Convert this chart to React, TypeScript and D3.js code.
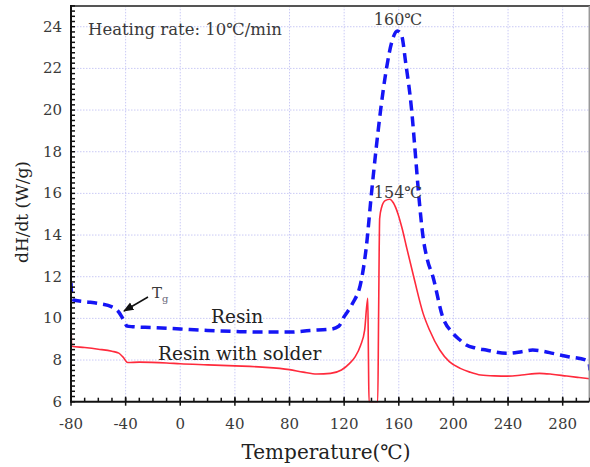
import * as d3 from 'd3';

// Resin (blue dashed)
const resinT = [-80, -79.2, -70, -60, -50, -46, -43, -41, -39, -35, -20, 0, 20, 40, 60, 80, 95, 110, 116, 120, 126, 132.6, 136, 140, 143.5, 146.7, 151, 155, 159, 162, 165, 169.4, 172, 174.5, 178, 181, 185, 192, 199.7, 205, 209.5, 216, 224, 238.7, 250, 258, 266, 272.8, 285, 297, 299.3, 300];
const resinH = [11.7, 10.9, 10.8, 10.72, 10.55, 10.38, 10.1, 9.85, 9.63, 9.6, 9.56, 9.49, 9.42, 9.37, 9.34, 9.34, 9.42, 9.48, 9.62, 10.08, 10.7, 11.84, 13.3, 16.0, 18.2, 20.0, 22.0, 23.3, 23.8, 23.6, 22.3, 20.0, 18.0, 16.0, 13.8, 12.8, 12.0, 10.1, 9.28, 8.95, 8.72, 8.58, 8.48, 8.32, 8.4, 8.48, 8.42, 8.32, 8.15, 8.0, 7.85, 7.5];

// Resin with solder (red solid)
const solderT = [-80, -79.5, -70, -60, -50, -45, -42, -38.5, -30, -10, 0, 20, 40, 60, 80, 90, 100, 110, 118, 124, 128, 132, 135, 137.3, 137.8, 138.2, 144.6, 145.2, 146, 147.5, 150, 153.4, 156, 159.3, 162.5, 165.6, 171.5, 177.8, 182.5, 190, 197, 205, 212, 220, 230, 240, 250, 263, 272, 283, 292, 300];
const solderH = [10.0, 8.66, 8.6, 8.52, 8.42, 8.33, 8.15, 7.88, 7.9, 7.86, 7.82, 7.77, 7.72, 7.66, 7.54, 7.42, 7.33, 7.36, 7.52, 7.84, 8.15, 8.7, 9.44, 10.96, 8.0, 6.0, 6.0, 10.0, 14.8, 15.35, 15.65, 15.72, 15.55, 15.04, 14.3, 13.44, 11.84, 10.24, 9.44, 8.48, 7.92, 7.6, 7.42, 7.28, 7.24, 7.23, 7.28, 7.36, 7.32, 7.23, 7.16, 7.1];

const xTicks = [-80, -40, 0, 40, 80, 120, 160, 200, 240, 280];
const yTicks = [6, 8, 10, 12, 14, 16, 18, 20, 22, 24];

const FONT = '"DejaVu Serif", serif';
const TXT = '#3a3a3a';

export default function App() {
  const x = d3.scaleLinear().domain([-80, 300]).range([71, 590]);
  const y = d3.scaleLinear().domain([6, 25]).range([401.7, 5.9]);

  const resin = resinT.map((t, i) => [t, resinH[i]] as [number, number]);
  const solder = solderT.map((t, i) => [t, solderH[i]] as [number, number]);

  const line = d3.line<[number, number]>()
    .x(d => x(d[0]))
    .y(d => y(d[1]))
    .curve(d3.curveMonotoneX);

  const minorX = d3.range(-80, 301, 10);
  const minorY = d3.range(6, 25.01, 0.25);

  const x0 = x(-80);
  const yb = y(6);
  const yt = y(25);
  const xr = 589.3;

  return (
    <svg width={590} height={467} style={{ position: 'absolute', left: 0, top: 0, background: '#fff' }}>
      <defs>
        <clipPath id="plot">
          <rect x={x0} y={yt} width={xr - x0} height={yb - yt + 1} />
        </clipPath>
        <marker id="arr" viewBox="0 0 10 10" refX="9" refY="5" markerWidth="7" markerHeight="7" orient="auto">
          <path d="M0,1 L10,5 L0,9 z" fill="#111" />
        </marker>
      </defs>

      {/* grid */}
      {xTicks.slice(1).map(t => (
        <line key={'gx' + t} x1={x(t)} x2={x(t)} y1={yt} y2={yb} stroke="#cacaf5" strokeWidth={1} strokeDasharray="1.5,1.5" />
      ))}
      {yTicks.slice(1).map(t => (
        <line key={'gy' + t} x1={x0} x2={xr} y1={y(t)} y2={y(t)} stroke="#cacaf5" strokeWidth={1} strokeDasharray="1.5,1.5" />
      ))}

      {/* curves */}
      <g clipPath="url(#plot)">
        <path d={line(solder) ?? ''} fill="none" stroke="#ff2a3c" strokeWidth={1.6} />
        <path d={line(resin) ?? ''} fill="none" stroke="#1515f5" strokeWidth={3.5} strokeDasharray="10,6" />
      </g>

      {/* frame */}
      <line x1={x0} x2={xr + 1} y1={yt} y2={yt} stroke="#555" strokeWidth={2} />
      <line x1={xr} x2={xr} y1={yt} y2={yb} stroke="#999" strokeWidth={1.5} />
      <line x1={x0} x2={x0} y1={yt - 1} y2={yb + 1} stroke="#111" strokeWidth={2} />
      <line x1={x0} x2={xr} y1={yb} y2={yb} stroke="#111" strokeWidth={2} />

      {/* ticks */}
      {minorY.map(t => (
        <line key={'ty' + t} x1={x0} x2={x0 + 4} y1={y(t)} y2={y(t)} stroke="#111" strokeWidth={1.5} />
      ))}
      {minorX.map(t => (
        <line key={'tx' + t} x1={x(t)} x2={x(t)} y1={yb} y2={yb - 4} stroke="#111" strokeWidth={1.5} />
      ))}
      {xTicks.map(t => (
        <line key={'mx' + t} x1={x(t)} x2={x(t)} y1={yb - 5} y2={yb + 4} stroke="#111" strokeWidth={1.5} />
      ))}

      {/* tick labels */}
      {yTicks.map(t => (
        <text key={'ly' + t} x={62} y={y(t) + 5} textAnchor="end" fontFamily={FONT} fontSize={15} fill={TXT}>{t}</text>
      ))}
      {xTicks.map(t => (
        <text key={'lx' + t} x={x(t)} y={429} textAnchor="middle" fontFamily={FONT} fontSize={15} fill={TXT}>{t}</text>
      ))}

      {/* axis titles */}
      <text x={326} y={459} textAnchor="middle" fontFamily={FONT} fontSize={20} fill="#222">Temperature(℃)</text>
      <text transform="translate(28,212) rotate(-90)" textAnchor="middle" fontFamily={FONT} fontSize={17} fill="#222">dH/dt (W/g)</text>

      {/* annotations */}
      <text x={88} y={34.5} fontFamily={FONT} fontSize={16.5} fill={TXT}>Heating rate: 10℃/min</text>
      <text x={398} y={25} textAnchor="middle" fontFamily={FONT} fontSize={16} fill={TXT}>160℃</text>
      <text x={398} y={198} textAnchor="middle" fontFamily={FONT} fontSize={16} fill={TXT}>154℃</text>
      <text x={152} y={298} fontFamily={FONT} fontSize={15} fill={TXT}>T<tspan fontSize={10} dy={4} fill="#667">g</tspan></text>
      <line x1={148} y1={297} x2={124} y2={311} stroke="#111" strokeWidth={1.5} markerEnd="url(#arr)" />
      <text x={211} y={323} fontFamily={FONT} fontSize={18.5} fill="#222">Resin</text>
      <text x={158} y={360} fontFamily={FONT} fontSize={18.5} fill="#222">Resin with solder</text>
    </svg>
  );
}
